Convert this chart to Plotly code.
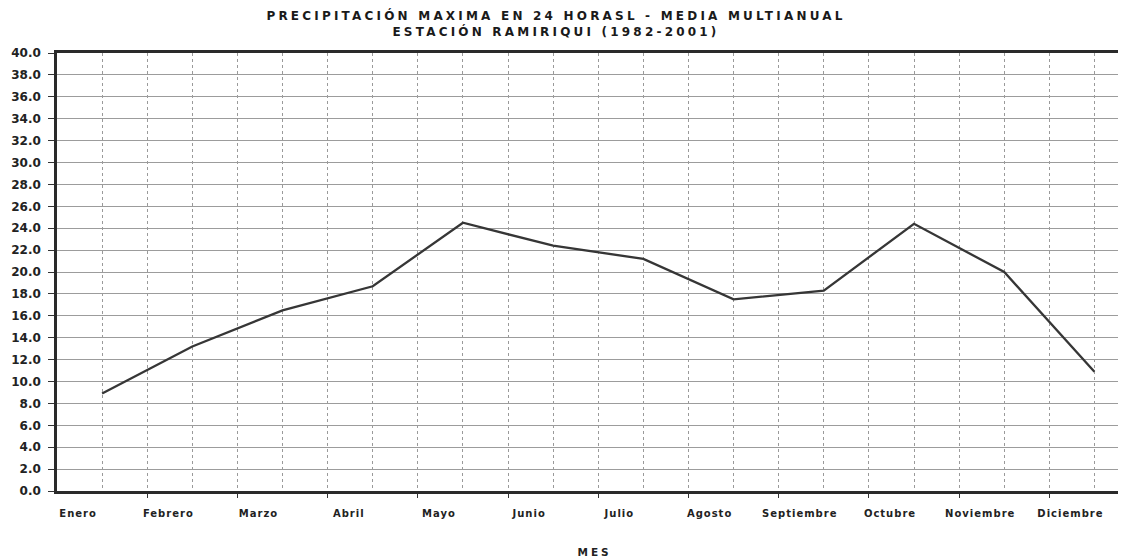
import plotly.graph_objects as go

# ---- data ----
meses = ["Enero", "Febrero", "Marzo", "Abril", "Mayo", "Junio",
         "Julio", "Agosto", "Septiembre", "Octubre", "Noviembre", "Diciembre"]
precip_max_24h = [8.9, 13.2, 16.5, 18.7, 24.5, 22.4,
                  21.2, 17.5, 18.3, 24.4, 20.0, 10.9]
y_ticks = [v * 2.0 for v in range(21)]

titulo = ("PRECIPITACIÓN MAXIMA EN 24 HORASL - MEDIA MULTIANUAL<br>"
          "ESTACIÓN RAMIRIQUI (1982-2001)")
eje_x = "MES"

idx = list(range(len(meses)))

fig = go.Figure()
fig.add_trace(go.Scatter(
    x=idx, y=precip_max_24h, mode="lines",
    line=dict(color="#363636", width=2.3),
    showlegend=False, hoverinfo="x+y",
))

font_main = "DejaVu Sans"
W, H = 1118, 551  # page body adds an 8px offset

fig.update_layout(
    width=W, height=H,
    paper_bgcolor="white", plot_bgcolor="white",
    margin=dict(l=49, r=0, t=45, b=68, autoexpand=False),
    title=dict(
        text=titulo, x=(556 - 8) / W, xanchor="center", y=1 - 12 / H, yanchor="middle",
        yref="container",
        font=dict(family=font_main, size=12, color="#1a1a1a", weight="bold"),
    ),
    xaxis=dict(
        range=[-0.5, 11.35], automargin=False,
        tickmode="array", tickvals=idx, ticktext=meses,
        ticks="", ticklabelshift=-24, ticklabelstandoff=11,
        tickfont=dict(family=font_main, size=10, color="#222", weight="bold"),
        showgrid=True, gridcolor="#9a9a9a", gridwidth=1, griddash="dot",
        showline=True, linecolor="#2a2a2a", linewidth=2.5, mirror=True,
        zeroline=False,
        minor=dict(
            tickvals=[i + 0.5 for i in idx[:-1]],
            ticks="outside", ticklen=4, tickcolor="#333", tickwidth=1,
            showgrid=True, gridcolor="#9a9a9a", gridwidth=1, griddash="dot",
        ),
    ),
    yaxis=dict(
        range=[0, 40], automargin=False,
        tickmode="array", tickvals=y_ticks, tickformat=".1f",
        ticks="outside", ticklen=6, tickcolor="#333", tickwidth=1,
        tickfont=dict(family=font_main, size=12, color="#222", weight="bold"),
        ticklabelstandoff=5,
        showgrid=True, gridcolor="#9c9c9c", gridwidth=1,
        showline=True, linecolor="#2a2a2a", linewidth=2.5, mirror=False,
        zeroline=False,
    ),
    annotations=[dict(
        text=eje_x, xref="paper", yref="paper", x=0.503, y=-0.14,
        xanchor="center", yanchor="middle", showarrow=False,
        font=dict(family=font_main, size=10.5, color="#222", weight="bold"),
    )],
)

post = """
var gd = document.getElementById('{plot_id}');
function spacing() {
  gd.querySelectorAll('.gtitle').forEach(function (t) { t.style.letterSpacing = '3.2px'; });
  gd.querySelectorAll('.xtick text').forEach(function (t) { t.style.letterSpacing = '1px'; });
  gd.querySelectorAll('.annotation-text').forEach(function (t) { t.style.letterSpacing = '3px'; });
}
spacing();
gd.on('plotly_afterplot', spacing);
"""

fig.write_html("out.html", post_script=post)
